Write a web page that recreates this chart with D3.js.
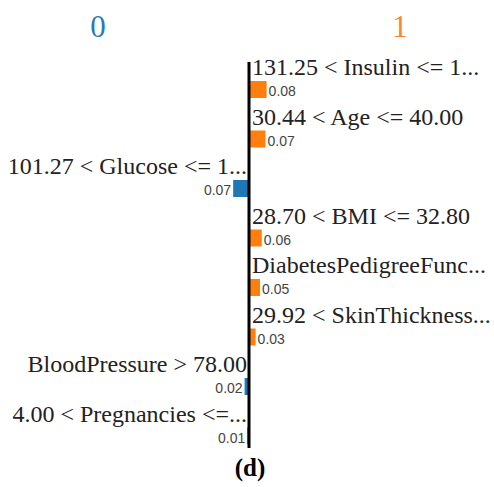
<!DOCTYPE html>
<html>
<head>
<meta charset="utf-8">
<script src="https://cdn.jsdelivr.net/npm/d3@7"></script>
<style>
  body { margin: 0; background: #fff; }
</style>
</head>
<body>
<div id="chart"></div>
<script>
// LIME explanation data.
var classNames = ['0', '1'];
var featureLabels = [
    '131.25 < Insulin <= 1...',
    '30.44 < Age <= 40.00',
    '101.27 < Glucose <= 1...',
    '28.70 < BMI <= 32.80',
    'DiabetesPedigreeFunc...',
    '29.92 < SkinThickness...',
    'BloodPressure > 78.00',
    '4.00 < Pregnancies <=...'
];
// Signed weights: negative pushes towards class 0, positive towards class 1.
var weights = [0.08, 0.075, -0.072, 0.058, 0.05, 0.03, -0.02, -0.008];
var panelLabel = '(d)';

var width = 494, height = 487;
var colors = ['#1f77b4', '#ff7f0e'];
var serif = '"Liberation Serif", "Times New Roman", serif';

var svg = d3.select('#chart').append('svg')
    .attr('width', width)
    .attr('height', height);

// Scales.
var x = d3.scaleLinear()
    .domain([-0.1, 0.1])
    .range([227, 271]);

var y = d3.scaleBand()
    .domain(d3.range(featureLabels.length))
    .range([58, 454]);

var fmt = d3.format('.2f');

// Class titles.
svg.selectAll('text.class-name')
    .data(classNames)
    .enter().append('text')
    .attr('class', 'class-name')
    .attr('x', (d, i) => i == 0 ? 98 : 400)
    .attr('y', 37)
    .attr('text-anchor', 'middle')
    .style('font-family', serif)
    .style('font-size', '31px')
    .style('fill', (d, i) => i == 0 ? '#2c7bb0' : '#f3883a')
    .text(d => d);

var rows = svg.selectAll('g.row')
    .data(weights)
    .enter().append('g')
    .attr('class', 'row')
    .attr('transform', (d, i) => 'translate(0,' + y(i) + ')');

// Feature name.
rows.append('text')
    .attr('x', d => d >= 0 ? x(0) + 3 : x(0) - 2)
    .attr('y', 17)
    .attr('text-anchor', d => d >= 0 ? 'start' : 'end')
    .style('font-family', serif)
    .style('font-size', '24px')
    .style('fill', '#222')
    .text((d, i) => featureLabels[i]);

// Bar.
rows.append('rect')
    .attr('x', d => Math.min(x(0), x(d)))
    .attr('y', 23)
    .attr('width', d => Math.abs(x(d) - x(0)))
    .attr('height', 17)
    .style('fill', d => d >= 0 ? colors[1] : colors[0]);

// Value label.
rows.append('text')
    .attr('x', d => d >= 0 ? x(d) + 2 : x(d) - 2)
    .attr('y', 38)
    .attr('text-anchor', d => d >= 0 ? 'start' : 'end')
    .style('font-family', '"Liberation Sans", Arial, sans-serif')
    .style('font-size', '14px')
    .style('fill', '#444')
    .text(d => fmt(Math.abs(d)));

// Centre axis line.
svg.append('line')
    .attr('x1', x(0)).attr('x2', x(0))
    .attr('y1', 62).attr('y2', 448)
    .style('stroke', '#000')
    .style('stroke-width', 3);

// Panel label.
svg.append('text')
    .attr('x', 250)
    .attr('y', 476)
    .attr('text-anchor', 'middle')
    .style('font-family', serif)
    .style('font-size', '25px')
    .style('font-weight', 'bold')
    .text(panelLabel);
</script>
</body>
</html>
